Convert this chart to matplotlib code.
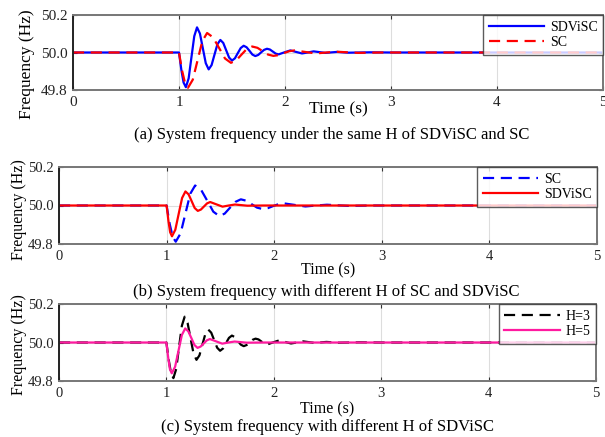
import matplotlib.pyplot as plt
import matplotlib as mpl

mpl.rcParams['font.family'] = 'Liberation Serif'

# --- Frequency traces (time in s, frequency in Hz) ---
# SDViSC with H=3 (same H as SC)
t_h3 = [0.0, 1.0, 1.022, 1.043, 1.065, 1.091, 1.1175, 1.144, 1.17, 1.1975, 1.225, 1.2525, 1.28,
        1.3075, 1.335, 1.3625, 1.39, 1.4175, 1.445, 1.4725, 1.50, 1.5275, 1.555, 1.5825, 1.61,
        1.6375, 1.665, 1.6925, 1.72, 1.7475, 1.775, 1.8025, 1.83, 1.8575, 1.885, 1.9125, 1.94,
        1.995, 2.05, 2.105, 2.16, 2.215, 2.27, 2.325, 2.38, 2.49, 2.6, 2.8, 3.0, 5.0]
f_h3 = [50.0, 50.0, 49.908, 49.84, 49.815, 49.862, 49.975, 50.087, 50.134, 50.101, 50.022, 49.943, 49.91,
        49.933, 49.989, 50.044, 50.067, 50.051, 50.012, 49.973, 49.957, 49.969, 49.997, 50.024, 50.036,
        50.028, 50.009, 49.989, 49.981, 49.987, 50.001, 50.014, 50.02, 50.016, 50.005, 49.994, 49.99,
        50.001, 50.011, 50.003, 49.995, 50.0, 50.006, 50.002, 49.998, 50.003, 49.999, 50.001, 50.0, 50.0]

# SC
t_sc = [0.0, 1.0, 1.028, 1.057, 1.085, 1.13, 1.175, 1.22, 1.265, 1.321, 1.3775, 1.434, 1.49,
        1.54, 1.59, 1.64, 1.69, 1.74, 1.79, 1.84, 1.89, 1.94, 1.99, 2.04, 2.09, 2.19, 2.29,
        2.39, 2.49, 2.59, 2.69, 2.9, 5.0]
f_sc = [50.0, 50.0, 49.906, 49.837, 49.812, 49.855, 49.958, 50.061, 50.104, 50.081, 50.025, 49.968, 49.945,
        49.958, 49.989, 50.019, 50.032, 50.025, 50.007, 49.989, 49.982, 49.986, 49.997, 50.007, 50.011, 50.003, 49.995,
        50.0, 50.004, 50.001, 49.998, 50.0, 50.0]

# SDViSC with H=5
t_h5 = [0.0, 1.0, 1.017, 1.033, 1.05, 1.081, 1.1125, 1.144, 1.175, 1.204, 1.2325, 1.261, 1.29,
        1.319, 1.3475, 1.376, 1.405, 1.4625, 1.52, 1.5775, 1.635, 1.75, 1.9, 5.0]
f_h5 = [50.0, 50.0, 49.92, 49.861, 49.84, 49.874, 49.957, 50.039, 50.073, 50.058, 50.023, 49.987, 49.972,
        49.979, 49.995, 50.011, 50.018, 50.006, 49.994, 50.0, 50.005, 49.999, 50.0, 50.0]

# panel layout in pixels: axes box (left, top, right, bottom), ylabel centre,
# xlabel y, caption centre, label font sizes
panels = [
    dict(box=(73, 15, 603, 90), ylab=(27, 64), xlab_y=109, cap=(332, 135), ysize=12.5, xsize=12.5,
         traces=[(t_h3, f_h3, '#0000ff', '-', 'SDViSC'), (t_sc, f_sc, '#ff0000', '--', 'SC')],
         caption='(a) System frequency under the same H of SDViSC and SC'),
    dict(box=(59, 167, 597, 244), ylab=(19, 210), xlab_y=270, cap=(326, 292), ysize=11.5, xsize=11.5,
         traces=[(t_sc, f_sc, '#0000ff', '--', 'SC'), (t_h5, f_h5, '#ff0000', '-', 'SDViSC')],
         caption='(b) System frequency with different H of SC and SDViSC'),
    dict(box=(59, 304, 596, 381), ylab=(19, 345), xlab_y=409, cap=(328, 427), ysize=11.5, xsize=11.5,
         traces=[(t_h3, f_h3, '#000000', '--', 'H=3'), (t_h5, f_h5, '#ff1aa0', '-', 'H=5')],
         caption='(c) System frequency with different H of SDViSC'),
]

W, H = 605, 437
fig = plt.figure(figsize=(W / 100, H / 100), dpi=100)

for p in panels:
    l, t, r, b = p['box']
    aw, ah = r - l, b - t
    ax = fig.add_axes([l / W, 1 - b / H, aw / W, ah / H])
    for tt, ff, col, ls, lab in p['traces']:
        if ls == '--':
            ax.plot(tt, ff, color=col, lw=1.6, ls='--', dashes=(5, 3), label=lab)
        else:
            ax.plot(tt, ff, color=col, lw=1.6, label=lab)
    ax.set_xlim(0, 5)
    ax.set_ylim(49.8, 50.2)
    ax.set_xticks([0, 1, 2, 3, 4, 5])
    ax.set_yticks([49.8, 50.0, 50.2])
    ax.set_yticklabels(['49.8', '50.0', '50.2'])
    ax.grid(True, color='#dddddd', lw=0.8)
    ax.set_axisbelow(True)
    ax.tick_params(direction='in', length=3, labelsize=11 if p['ysize'] > 12 else 10.5,
                   top=True, right=True, color='#333333', labelcolor='#222222')
    ax.tick_params(axis='x', pad=4)
    ax.tick_params(axis='y', pad=4)
    for s in ['top', 'bottom', 'right']:
        ax.spines[s].set_color('#777777')
        ax.spines[s].set_linewidth(1.4)
    ax.spines['left'].set_color('#222222')
    ax.spines['left'].set_linewidth(1.4)

    ax.set_xlabel('Time (s)', fontsize=p['xsize'])
    ax.xaxis.label.set_va('center')
    ax.xaxis.set_label_coords(0.5, (b - p['xlab_y']) / ah)
    ax.set_ylabel('Frequency (Hz)', fontsize=p['ysize'])
    ax.yaxis.label.set_va('center')
    ax.yaxis.set_label_coords((p['ylab'][0] - l) / aw, (b - p['ylab'][1]) / ah)

    leg = ax.legend(loc='upper right', fontsize=10, frameon=True, fancybox=False,
                    borderaxespad=0, handlelength=4.0, handletextpad=0.4,
                    labelspacing=0.2, borderpad=0.4)
    leg.get_frame().set_edgecolor('#333333')
    leg.get_frame().set_linewidth(1.0)

    cx, cy = p['cap']
    fig.text(cx / W, 1 - cy / H, p['caption'], ha='center', va='center', fontsize=12)

fig.savefig('out.png', dpi=100)
